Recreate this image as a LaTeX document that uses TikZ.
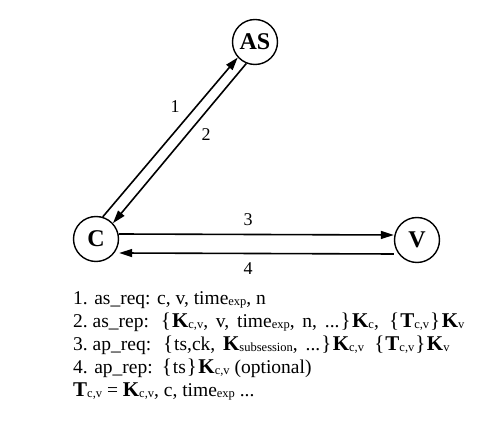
\documentclass[tikz,border=0pt]{standalone}
\usepackage{fontspec}
\setmainfont{Liberation Serif}
\usetikzlibrary{arrows.meta}
\newcommand{\sbs}[1]{\raisebox{-0.8pt}{\fontsize{12.5}{12.5}\selectfont #1}}
\newcommand{\KK}{{\fontsize{21}{21}\selectfont\bfseries K}}
\newcommand{\TT}{{\fontsize{21}{21}\selectfont\bfseries T}}
\newcommand{\lb}{\hspace{2.5pt}{\fontsize{21}{21}\selectfont\{}\hspace{1pt}}
\newcommand{\rb}{\hspace{1pt}{\fontsize{21}{21}\selectfont\}}\hspace{1.5pt}}
\newcommand{\nsp}{\hspace{4.9pt}}
\tikzset{
  party/.style={circle, draw, line width=1.4pt, minimum size=45pt, inner sep=0pt, font=\fontsize{24}{24}\selectfont\bfseries},
  arr/.style={line width=1.6pt, -{Triangle[length=13pt,width=8pt]}},
  lbl/.style={inner sep=0pt, font=\fontsize{18}{18}\selectfont},
  txt/.style={anchor=base west, inner sep=0pt, font=\fontsize{19.5}{19.5}\selectfont},
  widetxt/.style={txt, execute at begin node={\spaceskip=7.8pt plus 1pt\relax}}
}
\begin{document}
\begin{tikzpicture}[x=1pt,y=-1pt]
\useasboundingbox (0,0) rectangle (491,446);
\node[party] (AS) at (255,42) {AS};
\node[party] (C) at (96,239) {C};
\node[party] (V) at (417,240) {V};
\draw[arr] (C.73) -- (AS.222);
\draw[arr] (AS.248) -- (C.43);
\draw[arr] ([yshift=5pt]C.east) -- ([yshift=5pt]V.west);
\draw[arr] ([yshift=-14pt]V.west) -- ([yshift=-14pt]C.east);
\node[lbl] (l1) at (175,107) {1};
\node[lbl] (l2) at (206,135) {2};
\node[lbl] (l3) at (248,220) {3};
\node[lbl] (l4) at (248,269) {4};
\node[txt] (t1) at (73,305) {1. as\_req: c, v, time\sbs{exp}, n};
\node[widetxt] (t2) at (73,328) {2.\nsp as\_rep: \lb\KK\sbs{c,v}, v, time\sbs{exp}, n, ...\rb\KK\sbs{c}, \lb\TT\sbs{c,v}\rb\KK\sbs{v}};
\node[widetxt] (t3) at (73,351) {3.\nsp ap\_req: \lb ts,ck, \KK\sbs{subsession}, ...\rb\KK\sbs{c,v} \lb\TT\sbs{c,v}\rb\KK\sbs{v}};
\node[txt] (t4) at (73,374) {4. ap\_rep: \lb ts\rb\KK\sbs{c,v} (optional)};
\node[txt] (t5) at (73,397) {\TT\sbs{c,v} = \KK\sbs{c,v}, c, time\sbs{exp} ...};
\end{tikzpicture}
\end{document}
